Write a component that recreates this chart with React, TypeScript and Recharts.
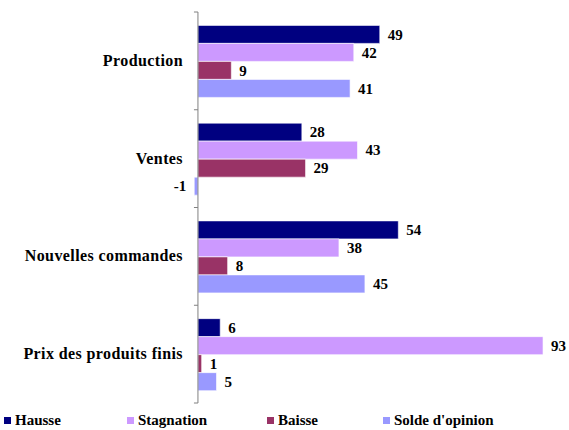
import * as React from "react";
import {
  BarChart,
  Bar,
  XAxis,
  YAxis,
  LabelList,
  ReferenceLine,
} from "recharts";

const categories = ["Production", "Ventes", "Nouvelles commandes", "Prix des produits finis"];
const hausse = [49, 28, 54, 6];
const stagnation = [42, 43, 38, 93];
const baisse = [9, 29, 8, 1];
const solde = [41, -1, 45, 5];

const seriesNames = ["Hausse", "Stagnation", "Baisse", "Solde d'opinion"];
const seriesColors = ["#000080", "#CC99FF", "#993366", "#9999FF"];
const seriesKeys = ["hausse", "stagnation", "baisse", "solde"];

const data = categories.map((name, i) => ({
  name,
  hausse: hausse[i],
  stagnation: stagnation[i],
  baisse: baisse[i],
  solde: solde[i],
}));

const WIDTH = 569;
const HEIGHT = 430;
const MARGIN = { top: 12, right: 0, bottom: 27, left: 0 };
const Y_AXIS_WIDTH = 193.5;
const DOMAIN: [number, number] = [-1.2, 100];
const FONT = "'Liberation Serif', 'Times New Roman', serif";

const plotWidth = WIDTH - MARGIN.left - MARGIN.right - Y_AXIS_WIDTH;
const plotHeight = HEIGHT - MARGIN.top - MARGIN.bottom;
const zeroX =
  MARGIN.left + Y_AXIS_WIDTH + ((0 - DOMAIN[0]) / (DOMAIN[1] - DOMAIN[0])) * plotWidth;
const band = plotHeight / categories.length;

const legendLefts = [4, 127, 267, 383];

function CategoryTick(props: any) {
  const { y, payload, index } = props;
  return (
    <g>
      <text
        x={183}
        y={y}
        dy={5}
        textAnchor="end"
        fontFamily={FONT}
        fontWeight="bold"
        fontSize={16}
        letterSpacing={0.4}
        fill="#000"
      >
        {payload.value}
      </text>
      <line x1={zeroX - 4} x2={zeroX} y1={y - band / 2} y2={y - band / 2} stroke="#808080" />
      {index === categories.length - 1 && (
        <line x1={zeroX - 4} x2={zeroX} y1={y + band / 2} y2={y + band / 2} stroke="#808080" />
      )}
    </g>
  );
}

export default function App() {
  return (
    <div style={{ position: "relative", width: WIDTH, height: HEIGHT, background: "#fff", overflow: "hidden" }}>
      <style>{`body { margin: 0; }`}</style>
      <BarChart
        width={WIDTH}
        height={HEIGHT}
        data={data}
        layout="vertical"
        margin={MARGIN}
        barGap={0}
        barCategoryGap="13.7%"
      >
        <XAxis type="number" domain={DOMAIN} hide allowDataOverflow />
        <YAxis
          type="category"
          dataKey="name"
          width={Y_AXIS_WIDTH}
          axisLine={false}
          tickLine={false}
          tick={<CategoryTick />}
          interval={0}
        />
        {seriesKeys.map((key, i) => (
          <Bar
            key={key}
            dataKey={key}
            name={seriesNames[i]}
            fill={seriesColors[i]}
            stroke="#ffffff"
            strokeWidth={0.6}
            isAnimationActive={false}
          >
            <LabelList
              dataKey={key}
              position="right"
              offset={8}
              fontFamily={FONT}
              fontWeight="bold"
              fontSize={15}
              fill="#000"
            />
          </Bar>
        ))}
        <ReferenceLine x={0} stroke="#808080" strokeWidth={1} ifOverflow="extendDomain" />
      </BarChart>
      <div
        style={{
          position: "absolute",
          left: 0,
          top: 412,
          width: WIDTH,
          height: 17,
          fontFamily: FONT,
          fontWeight: "bold",
          fontSize: 15,
          color: "#000",
        }}
      >
        {seriesNames.map((name, i) => (
          <div
            key={name}
            style={{ position: "absolute", left: legendLefts[i], top: 0, whiteSpace: "nowrap", lineHeight: "17px" }}
          >
            <span
              style={{
                display: "inline-block",
                width: 7,
                height: 7,
                background: seriesColors[i],
                marginRight: 4,
                verticalAlign: "1px",
              }}
            />
            {name}
          </div>
        ))}
      </div>
    </div>
  );
}
